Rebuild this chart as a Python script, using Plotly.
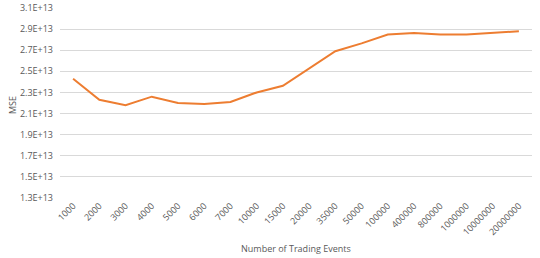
import plotly.graph_objects as go

categories = ["1000", "2000", "3000", "4000", "5000", "6000", "7000", "10000", "15000",
              "20000", "35000", "50000", "100000", "400000", "800000", "1000000",
              "10000000", "20000000"]
mse = [2.43e13, 2.23e13, 2.18e13, 2.26e13, 2.20e13, 2.19e13, 2.21e13, 2.30e13, 2.363e13,
       2.53e13, 2.69e13, 2.765e13, 2.848e13, 2.864e13, 2.85e13, 2.85e13, 2.867e13, 2.88e13]
ytick_vals = [1.3e13, 1.5e13, 1.7e13, 1.9e13, 2.1e13, 2.3e13, 2.5e13, 2.7e13, 2.9e13, 3.1e13]
ytick_text = ["1.3E+13", "1.5E+13", "1.7E+13", "1.9E+13", "2.1E+13", "2.3E+13",
              "2.5E+13", "2.7E+13", "2.9E+13", "3.1E+13"]

W, H = 540, 258
ML, MR, MT, MB = 60, 8, 8, 60
PH = H - MT - MB

fig = go.Figure(go.Scatter(x=categories, y=mse, mode="lines",
                           line=dict(color="#ED7D31", width=2)))
font = dict(family="Open Sans, Liberation Sans, sans-serif", color="#595959", size=9)
fig.update_layout(
    width=W, height=H, margin=dict(l=ML, r=MR, t=MT, b=MB, autoexpand=False),
    paper_bgcolor="white", plot_bgcolor="white", showlegend=False, font=font,
    xaxis=dict(type="category", tickangle=-45, showgrid=False, showline=False,
               ticks="", automargin=False, tickfont=dict(size=9, color="#595959"),
               range=[-0.5, len(categories) - 0.5]),
    yaxis=dict(range=[1.3e13, 3.1e13], tickvals=ytick_vals, ticktext=ytick_text,
               showgrid=True, gridcolor="#d9d9d9", gridwidth=1, zeroline=False,
               showline=False, ticks="", ticklabelstandoff=6, automargin=False,
               tickfont=dict(size=9, color="#595959")),
    annotations=[
        dict(text="Number of Trading Events", xref="paper", yref="paper",
             x=0.5, y=-(248 - (H - MB)) / PH, xanchor="center", yanchor="middle",
             showarrow=False, font=dict(size=9, color="#595959")),
        dict(text="MSE", xref="paper", yref="paper", textangle=-90,
             x=-(ML - 12) / (W - ML - MR), y=(H - MB - 105) / PH,
             xanchor="center", yanchor="middle",
             showarrow=False, font=dict(size=9, color="#595959")),
    ],
)
fig.write_html("out.html", config={"displayModeBar": False},
               post_script="document.body.style.margin='0';document.body.style.overflow='hidden';")
